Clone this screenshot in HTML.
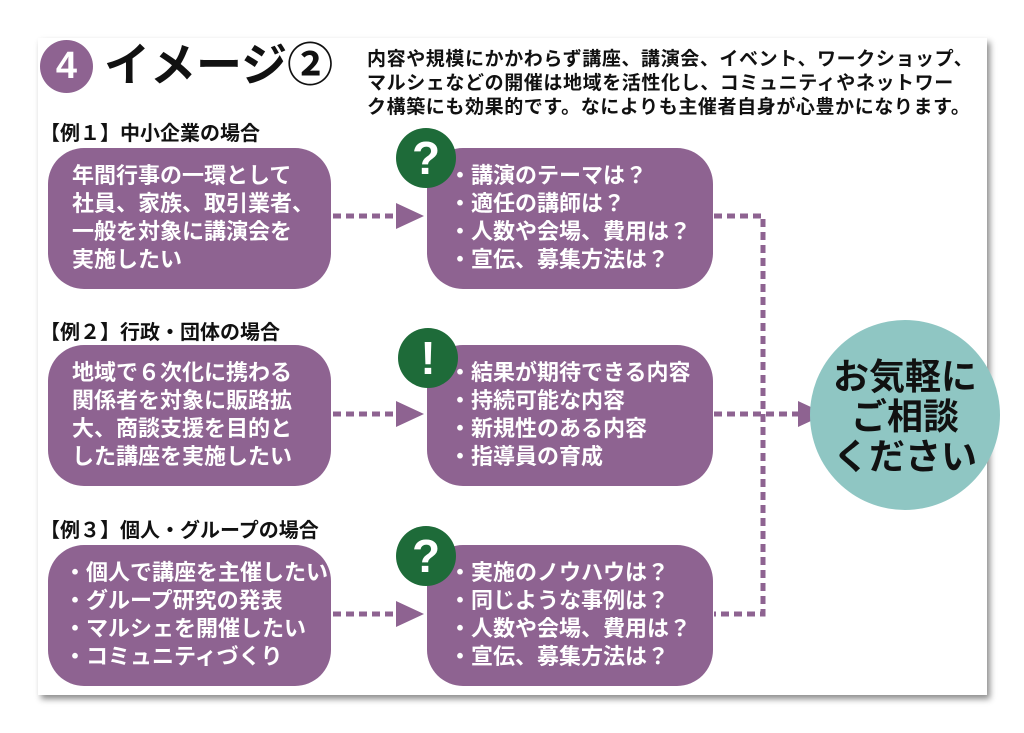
<!DOCTYPE html>
<html><head><meta charset="utf-8"><style>
body{margin:0;width:1024px;height:733px;background:#fff;position:relative;overflow:hidden;font-family:"Liberation Sans","Noto Sans CJK JP",sans-serif;font-weight:bold}
.a{position:absolute}
.panel{left:38px;top:38px;width:949px;height:657px;background:#fff;box-shadow:3px 4px 6px rgba(0,0,0,.45)}
.box{position:absolute;background:#8e6391;border-radius:36px;color:#fff;font-size:22px;line-height:28px;box-sizing:border-box}
.l{left:48px;width:283px;height:141px;padding:14px 0 0 24px}
.m{left:427px;width:286px;height:141px;padding:14px 0 0 22px}
.g{position:absolute;width:60px;height:60px;border-radius:50%;background:#1e6b39;color:#fff;font-size:46px;line-height:60px;text-align:center;font-family:"Liberation Sans",sans-serif;font-weight:900}
.h{position:absolute;left:40px;font-size:20px;color:#111}
</style></head><body>
<div class="a panel"></div>
<div class="a" style="left:40px;top:40px;width:53px;height:53px;border-radius:50%;background:#8e6391;color:#fff;font-size:38px;line-height:53px;text-align:center">4</div>
<div class="a" style="left:104px;top:36px;font-size:46px;line-height:58px;color:#111">イメージ②</div>
<div class="a" style="left:367px;top:48px;font-size:19px;line-height:24px;letter-spacing:0.6px;color:#111;width:640px;white-space:nowrap">内容や規模にかかわらず講座、講演会、イベント、ワークショップ、<br>マルシェなどの開催は地域を活性化し、コミュニティやネットワー<br>ク構築にも効果的です。なによりも主催者自身が心豊かになります。</div>
<div class="h" style="top:117px">【例１】中小企業の場合</div>
<div class="h" style="top:316px">【例２】行政・団体の場合</div>
<div class="h" style="top:514px">【例３】個人・グループの場合</div>
<div class="box l" style="top:148px">年間行事の一環として<br>社員、家族、取引業者、<br>一般を対象に講演会を<br>実施したい</div>
<div class="box l" style="top:345px">地域で６次化に携わる<br>関係者を対象に販路拡<br>大、商談支援を目的と<br>した講座を実施したい</div>
<div class="box l" style="top:545px;padding-left:16px">・個人で講座を主催したい<br>・グループ研究の発表<br>・マルシェを開催したい<br>・コミュニティづくり</div>
<div class="box m" style="top:148px">・講演のテーマは？<br>・適任の講師は？<br>・人数や会場、費用は？<br>・宣伝、募集方法は？</div>
<div class="box m" style="top:345px">・結果が期待できる内容<br>・持続可能な内容<br>・新規性のある内容<br>・指導員の育成</div>
<div class="box m" style="top:545px">・実施のノウハウは？<br>・同じような事例は？<br>・人数や会場、費用は？<br>・宣伝、募集方法は？</div>
<div class="g" style="left:396px;top:128px">?</div>
<div class="g" style="left:398px;top:328px">!</div>
<div class="g" style="left:396px;top:526px">?</div>
<svg class="a" style="left:0;top:0" width="1024" height="733">
<g stroke="#8e6391" stroke-width="5" stroke-dasharray="8,5" fill="none">
<path d="M333 216H398M333 414H398M333 614H398"/>
<path d="M714 216H763V614H714M714 414H800"/>
</g>
<g fill="#8e6391">
<path d="M396 203L424 216L396 229Z"/><path d="M396 401L424 414L396 427Z"/><path d="M396 601L424 614L396 627Z"/>
<path d="M798 401L826 414L798 427Z"/>
</g>
<circle cx="905" cy="415" r="95" fill="#8fc6c3"/>
</svg>
<div class="a" style="left:805px;top:357px;width:200px;text-align:center;font-size:36px;line-height:40px;color:#111">お気軽に<br>ご相談<br>ください</div>
</body></html>
